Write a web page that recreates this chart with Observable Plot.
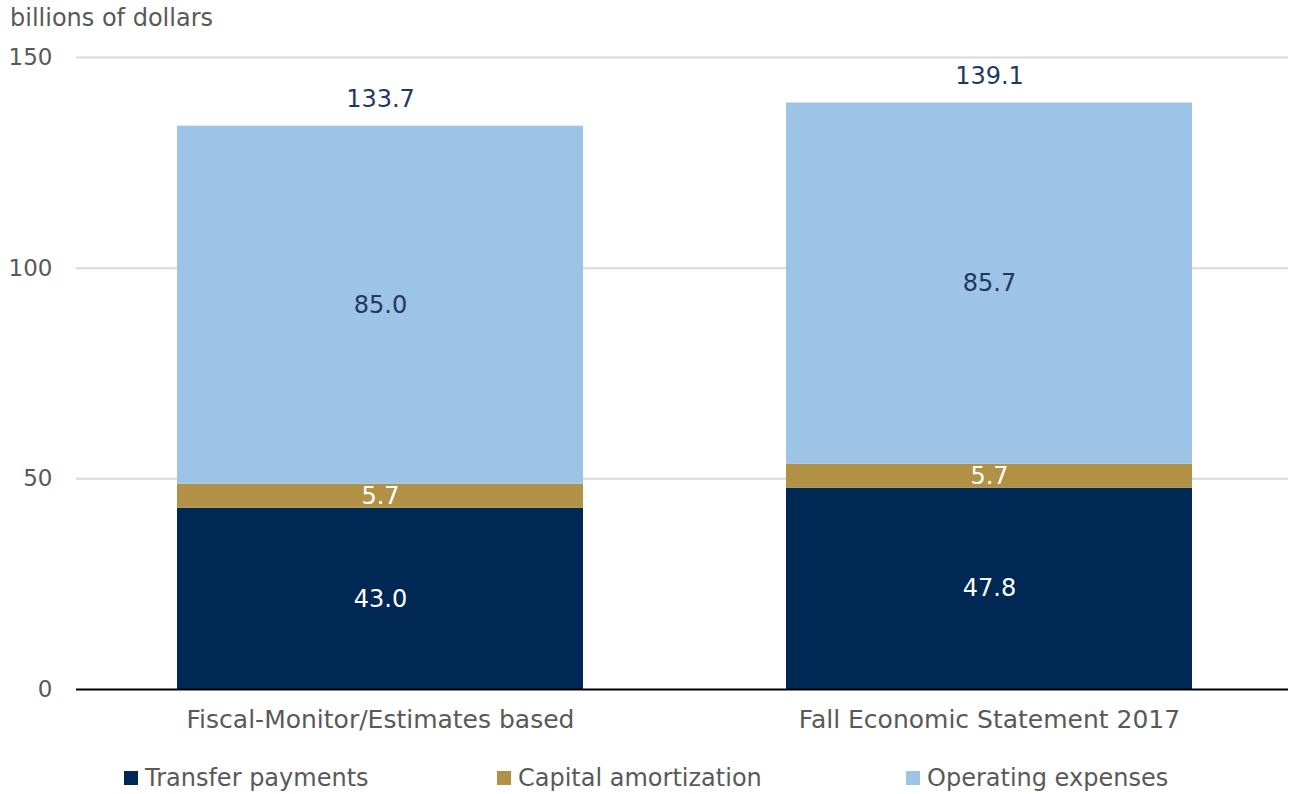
<!DOCTYPE html>
<html>
<head>
<meta charset="utf-8">
<script src="https://cdn.jsdelivr.net/npm/d3@7"></script>
<script src="https://cdn.jsdelivr.net/npm/@observablehq/plot@0.6"></script>
<style>
  html, body { margin: 0; padding: 0; background: #fff; }
  body { width: 1294px; height: 794px; position: relative; overflow: hidden; font-family: "DejaVu Sans", sans-serif; }
  #ytitle { position: absolute; left: 10px; top: 4px; font-size: 24px; color: #595959; }
  #chart { position: absolute; left: 0; top: 0; }
  #legend { position: absolute; left: 0; top: 761px; width: 1294px; height: 34px; font-size: 24px; color: #595959; }
  .item { position: absolute; top: 0; display: flex; align-items: center; height: 34px; }
  .sw { width: 14px; height: 14px; margin-right: 7px; }
</style>
</head>
<body>
<div id="chart"></div>
<div id="ytitle">billions of dollars</div>
<div id="legend"></div>
<script>
const categories = ["Fiscal-Monitor/Estimates based", "Fall Economic Statement 2017"];
const seriesNames = ["Transfer payments", "Capital amortization", "Operating expenses"];
const transferPayments = [43.0, 47.8];
const capitalAmortization = [5.7, 5.7];
const operatingExpenses = [85.0, 85.7];
const totals = [133.7, 139.1];
const colors = ["#002855", "#B09145", "#9DC3E6"];
const yTicks = [0, 50, 100, 150];

const seriesValues = [transferPayments, capitalAmortization, operatingExpenses];
const rows = [];
seriesNames.forEach((s, si) => {
  categories.forEach((c, ci) => {
    rows.push({category: c, series: s, value: seriesValues[si][ci]});
  });
});
const totalRows = categories.map((c, i) => ({category: c, total: totals[i]}));

const fmt = d => d.toFixed(1);

const plot = Plot.plot({
  width: 1294,
  height: 745,
  marginLeft: 76,
  marginRight: 0,
  marginTop: 57,
  marginBottom: 56,
  style: {fontFamily: "DejaVu Sans, sans-serif", fontSize: "22px", color: "#595959", background: "transparent"},
  x: {domain: categories, paddingInner: 0.333, paddingOuter: 0.165, label: null},
  y: {domain: [0, 150], ticks: yTicks, label: null},
  color: {domain: seriesNames, range: colors},
  marks: [
    Plot.ruleY(yTicks.filter(d => d > 0), {stroke: "#d9d9d9", strokeWidth: 2, insetRight: 6}),
    Plot.barY(rows, Plot.stackY({x: "category", y: "value", z: "series", fill: "series", order: seriesNames})),
    Plot.textY(rows, Plot.stackY({
      x: "category", y: "value", z: "series", order: seriesNames,
      text: d => fmt(d.value),
      fill: d => d.series === "Operating expenses" ? "#1F3864" : "#ffffff",
      fontSize: 24
    })),
    Plot.text(totalRows, {x: "category", y: "total", text: d => fmt(d.total), dy: -27, fill: "#1F3864", fontSize: 24}),
    Plot.ruleY([0], {stroke: "#000", strokeWidth: 2, insetRight: 6}),
    Plot.axisY({ticks: yTicks, tickSize: 0, tickPadding: 24, fontSize: 23, label: null, fill: "#595959"}),
    Plot.axisX({tickSize: 0, tickPadding: 21, fontSize: 25, label: null, fill: "#595959"})
  ]
});
document.getElementById("chart").appendChild(plot);

const legendPos = [124, 497, 906];
const legend = document.getElementById("legend");
seriesNames.forEach((s, i) => {
  const it = document.createElement("div");
  it.className = "item";
  it.style.left = legendPos[i] + "px";
  const sw = document.createElement("div");
  sw.className = "sw";
  sw.style.background = colors[i];
  const t = document.createElement("span");
  t.textContent = s;
  it.appendChild(sw); it.appendChild(t);
  legend.appendChild(it);
});
</script>
</body>
</html>
